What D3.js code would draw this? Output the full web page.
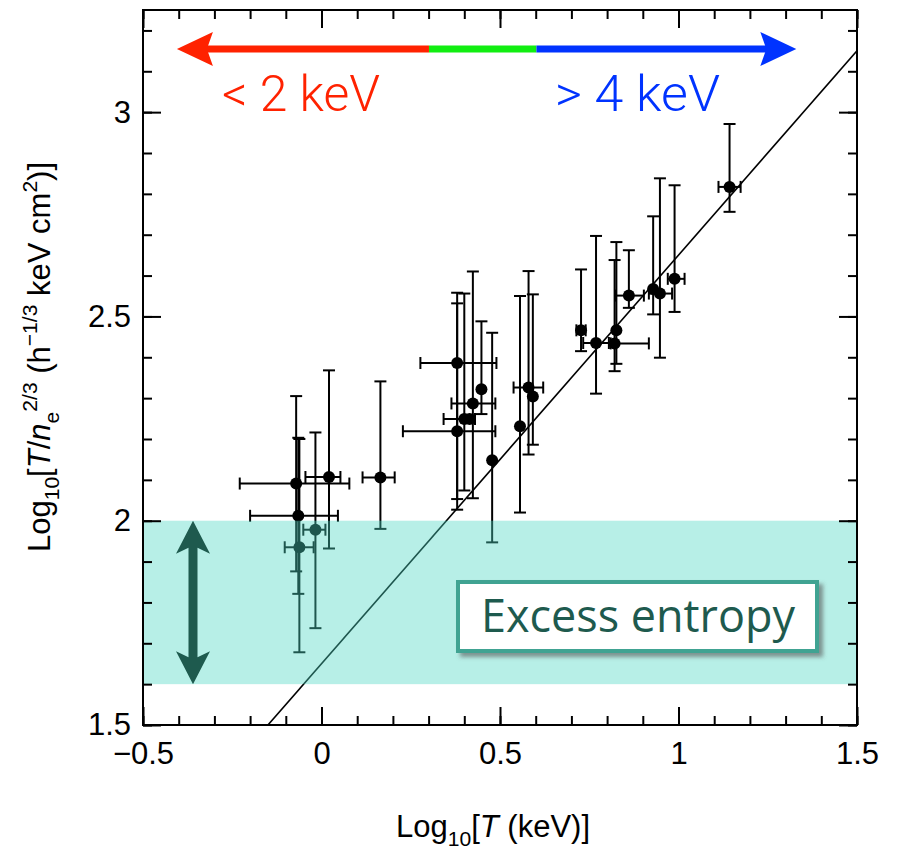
<!DOCTYPE html>
<html>
<head>
<meta charset="utf-8">
<script src="https://cdn.jsdelivr.net/npm/d3@7"></script>
<style>
  body { margin: 0; background: #fff; }
  svg { display: block; }
  text { font-family: "Liberation Sans", Arial, sans-serif; white-space: pre; }
</style>
</head>
<body>
<div id="chart"></div>
<script>
// cluster data: log10 T (keV) and log10 entropy, with error ranges
var logT   = [-0.071, -0.065, -0.062, -0.017, 0.021, 0.165, 0.380, 0.380, 0.400, 0.415, 0.424, 0.448, 0.478,
              0.556, 0.580, 0.592, 0.727, 0.769, 0.821, 0.826, 0.861, 0.929, 0.948, 0.989, 1.143];
var logTlo = [-0.229, -0.200, -0.103, -0.051, -0.045, 0.115, 0.277, 0.228, 0.342, 0.415, 0.364, 0.448, 0.478,
              0.556, 0.538, 0.592, 0.714, 0.733, 0.810, 0.826, 0.824, 0.929, 0.917, 0.970, 1.112];
var logThi = [0.078, 0.046, -0.022, 0.011, 0.053, 0.205, 0.490, 0.487, 0.430, 0.415, 0.487, 0.448, 0.478,
              0.556, 0.621, 0.592, 0.740, 0.805, 0.917, 0.826, 0.903, 0.929, 0.982, 1.017, 1.174];
var logK   = [2.091, 2.012, 1.935, 1.978, 2.107, 2.106, 2.386, 2.219, 2.249, 2.249, 2.287, 2.322, 2.148,
              2.231, 2.326, 2.304, 2.466, 2.435, 2.434, 2.466, 2.551, 2.567, 2.556, 2.592, 2.817];
var logKlo = [1.876, 1.821, 1.678, 1.737, 1.932, 1.980, 2.053, 2.027, 2.074, 2.249, 2.055, 2.261, 1.947,
              2.020, 2.162, 2.186, 2.415, 2.311, 2.366, 2.384, 2.521, 2.505, 2.399, 2.511, 2.756];
var logKhi = [2.305, 2.203, 2.200, 2.216, 2.368, 2.341, 2.558, 2.532, 2.556, 2.249, 2.610, 2.488, 2.460,
              2.550, 2.611, 2.554, 2.615, 2.697, 2.638, 2.682, 2.662, 2.745, 2.838, 2.821, 2.971];

// self-similar line K = T, log offset
var fitSlope = 1.0, fitIntercept = 1.65;
// excess entropy band
var band = [1.6, 2.0];
// temperature regimes (keV)
var coolT = 2, hotT = 4;
var arrowRange = [-0.405, 1.33];

var xTicks = [-0.5, 0, 0.5, 1, 1.5];
var xTickLabels = ["\u22120.5", "0", "0.5", "1", "1.5"];
var yTicks = [1.5, 2, 2.5, 3];
var yTickLabels = ["1.5", "2", "2.5", "3"];

var W = 899, H = 852;
var margin = {top: 10, right: 42, bottom: 127, left: 143},
    width = W - margin.left - margin.right,
    height = H - margin.top - margin.bottom;

var svg = d3.select("#chart").append("svg")
    .attr("width", W)
    .attr("height", H);

var defs = svg.append("defs");
defs.append("clipPath").attr("id", "plotClip")
  .append("rect").attr("width", width).attr("height", height);
var shadow = defs.append("filter").attr("id", "shadow")
    .attr("x", "-10%").attr("y", "-20%").attr("width", "130%").attr("height", "160%");
shadow.append("feDropShadow")
    .attr("dx", 4).attr("dy", 4).attr("stdDeviation", 2)
    .attr("flood-color", "#555").attr("flood-opacity", 0.6);

var g = svg.append("g")
    .attr("transform", "translate(" + margin.left + "," + margin.top + ")");

var x = d3.scaleLinear().domain([-0.5, 1.5]).range([0, width]);
var y = d3.scaleLinear().domain([1.5, 3.25]).range([height, 0]);

// error bars
var cap = 6;
var bars = g.append("g").attr("stroke", "#000").attr("stroke-width", 2).attr("fill", "none");
logT.forEach(function(t, i) {
  if (logThi[i] > logTlo[i]) {
    bars.append("line").attr("x1", x(logTlo[i])).attr("x2", x(logThi[i]))
        .attr("y1", y(logK[i])).attr("y2", y(logK[i]));
    [logTlo[i], logThi[i]].forEach(function(v) {
      bars.append("line").attr("x1", x(v)).attr("x2", x(v))
          .attr("y1", y(logK[i]) - cap).attr("y2", y(logK[i]) + cap);
    });
  }
  if (logKhi[i] > logKlo[i]) {
    bars.append("line").attr("x1", x(t)).attr("x2", x(t))
        .attr("y1", y(logKlo[i])).attr("y2", y(logKhi[i]));
    [logKlo[i], logKhi[i]].forEach(function(v) {
      bars.append("line").attr("x1", x(t) - cap).attr("x2", x(t) + cap)
          .attr("y1", y(v)).attr("y2", y(v));
    });
  }
});

g.append("g").selectAll("circle")
  .data(logT)
  .enter().append("circle")
    .attr("cx", function(d) { return x(d); })
    .attr("cy", function(d, i) { return y(logK[i]); })
    .attr("r", 6)
    .attr("fill", "#000");

// fit line
var xs = x.domain();
g.append("line")
    .attr("clip-path", "url(#plotClip)")
    .attr("x1", x(xs[0])).attr("y1", y(fitIntercept + fitSlope * xs[0]))
    .attr("x2", x(xs[1])).attr("y2", y(fitIntercept + fitSlope * xs[1]))
    .attr("stroke", "#000").attr("stroke-width", 1.6);

// excess entropy band (drawn over the points)
g.append("rect")
    .attr("x", 0).attr("width", width)
    .attr("y", y(band[1])).attr("height", y(band[0]) - y(band[1]))
    .attr("fill", "rgb(75,215,195)").attr("fill-opacity", 0.4);

// axes: inward ticks on all four sides
function styleAxis(sel) {
  sel.select(".domain").remove();
  sel.selectAll("line").attr("stroke", "#000").attr("stroke-width", 2);
  sel.selectAll("text").attr("fill", "#000").style("font-size", "31px")
     .style("font-family", '"Liberation Sans", Arial, sans-serif');
}
var xMinor = d3.range(-5, 16).map(function(d) { return d / 10; });
var yMinor = d3.range(15, 33).map(function(d) { return d / 10; });
var xLab = function(d) { return xTickLabels[xTicks.indexOf(d)]; };
var yLab = function(d) { return yTickLabels[yTicks.indexOf(d)]; };

g.append("g").attr("transform", "translate(0," + height + ")")
  .call(d3.axisBottom(x).tickValues(xMinor).tickSize(-9).tickFormat("")).call(styleAxis);
g.append("g").attr("transform", "translate(0," + height + ")")
  .call(d3.axisBottom(x).tickValues(xTicks).tickSize(-18).tickPadding(17).tickFormat(xLab)).call(styleAxis);
g.append("g")
  .call(d3.axisTop(x).tickValues(xMinor).tickSize(-9).tickFormat("")).call(styleAxis);
g.append("g")
  .call(d3.axisTop(x).tickValues(xTicks).tickSize(-18).tickFormat("")).call(styleAxis);

g.append("g")
  .call(d3.axisLeft(y).tickValues(yMinor).tickSize(-9).tickFormat("")).call(styleAxis);
g.append("g")
  .call(d3.axisLeft(y).tickValues(yTicks).tickSize(-18).tickPadding(12).tickFormat(yLab)).call(styleAxis);
g.append("g").attr("transform", "translate(" + width + ",0)")
  .call(d3.axisRight(y).tickValues(yMinor).tickSize(-9).tickFormat("")).call(styleAxis);
g.append("g").attr("transform", "translate(" + width + ",0)")
  .call(d3.axisRight(y).tickValues(yTicks).tickSize(-18).tickFormat("")).call(styleAxis);

g.append("rect")
    .attr("width", width).attr("height", height)
    .attr("fill", "none").attr("stroke", "#000").attr("stroke-width", 2);

// rich text helper for sub/superscripts
function rich(sel, parts, size) {
  var cur = 0;
  parts.forEach(function(p) {
    var off = p.s === "sub" ? 0.3 * size : p.s === "sup" ? -0.42 * size : 0;
    var ts = sel.append("tspan").attr("dy", off - cur).text(p.t)
        .style("font-size", (p.s ? size * 0.68 : size) + "px");
    if (p.i) ts.style("font-style", "italic");
    cur = off;
  });
}

var xLabel = svg.append("text")
    .attr("x", 493).attr("y", 837)
    .attr("text-anchor", "middle").attr("fill", "#000");
rich(xLabel, [{t: "Log"}, {t: "10", s: "sub"}, {t: "["}, {t: "T", i: 1}, {t: " (keV)]"}], 31);

var yLabel = svg.append("text")
    .attr("transform", "translate(50,357) rotate(-90)")
    .attr("text-anchor", "middle").attr("fill", "#000");
rich(yLabel, [{t: "Log"}, {t: "10", s: "sub"}, {t: "["}, {t: "T", i: 1}, {t: "/"}, {t: "n", i: 1},
              {t: "e", s: "sub"}, {t: "2/3", s: "sup"}, {t: " (h"}, {t: "\u22121/3", s: "sup"},
              {t: " keV cm"}, {t: "2", s: "sup"}, {t: ")]"}], 31);

// temperature regime arrow
var ay = 49, shaft = 7, headL = 36, headW = 17, notch = 30;
var red = "#ff2200", green = "#11ee11", blue = "#0033ff";
var xl = x(arrowRange[0]), xr = x(arrowRange[1]);
var x2 = x(Math.log10(coolT)), x4 = x(Math.log10(hotT));
g.append("rect").attr("x", xl + notch - 1).attr("y", ay - margin.top - shaft / 2)
    .attr("width", x2 - xl - notch + 1).attr("height", shaft).attr("fill", red);
g.append("rect").attr("x", x2).attr("y", ay - margin.top - shaft / 2)
    .attr("width", x4 - x2).attr("height", shaft).attr("fill", green);
g.append("rect").attr("x", x4).attr("y", ay - margin.top - shaft / 2)
    .attr("width", xr - notch + 1 - x4).attr("height", shaft).attr("fill", blue);
var cy = ay - margin.top;
g.append("path").attr("fill", red)
    .attr("d", "M" + xl + "," + cy + "L" + (xl + headL) + "," + (cy - headW) +
               "L" + (xl + notch) + "," + cy + "L" + (xl + headL) + "," + (cy + headW) + "Z");
g.append("path").attr("fill", blue)
    .attr("d", "M" + xr + "," + cy + "L" + (xr - headL) + "," + (cy - headW) +
               "L" + (xr - notch) + "," + cy + "L" + (xr - headL) + "," + (cy + headW) + "Z");

svg.append("text").attr("x", 222).attr("y", 111).attr("fill", red)
    .attr("textLength", 158).attr("lengthAdjust", "spacingAndGlyphs")
    .style("font-size", "50px").style("font-family", "Roboto, sans-serif").style("font-weight", 300)
    .text("< 2 keV");
svg.append("text").attr("x", 555).attr("y", 111).attr("fill", blue)
    .attr("textLength", 165).attr("lengthAdjust", "spacingAndGlyphs")
    .style("font-size", "50px").style("font-family", "Roboto, sans-serif").style("font-weight", 300)
    .text("> 4 keV");

// double arrow spanning the band
var dark = "#1e5a4e";
var bx = 50, yt = y(band[1]), yb = y(band[0]);
var dh = 33, dw = 17, dn = 27, ds = 4.5;
g.append("path").attr("fill", dark)
    .attr("d", "M" + bx + "," + yt +
               "L" + (bx + dw) + "," + (yt + dh) + "L" + (bx + ds) + "," + (yt + dn) +
               "L" + (bx + ds) + "," + (yb - dn) + "L" + (bx + dw) + "," + (yb - dh) +
               "L" + bx + "," + yb +
               "L" + (bx - dw) + "," + (yb - dh) + "L" + (bx - ds) + "," + (yb - dn) +
               "L" + (bx - ds) + "," + (yt + dn) + "L" + (bx - dw) + "," + (yt + dh) + "Z");

// label box
svg.append("rect").attr("x", 458).attr("y", 582).attr("width", 359).attr("height", 69)
    .attr("fill", "#fff").attr("stroke", "#41a392").attr("stroke-width", 4)
    .attr("filter", "url(#shadow)");
svg.append("text").attr("x", 481).attr("y", 632).attr("fill", dark)
    .attr("textLength", 314).attr("lengthAdjust", "spacingAndGlyphs")
    .style("font-size", "45px").style("font-family", '"Open Sans", "Noto Sans", sans-serif')
    .text("Excess entropy");
</script>
</body>
</html>
